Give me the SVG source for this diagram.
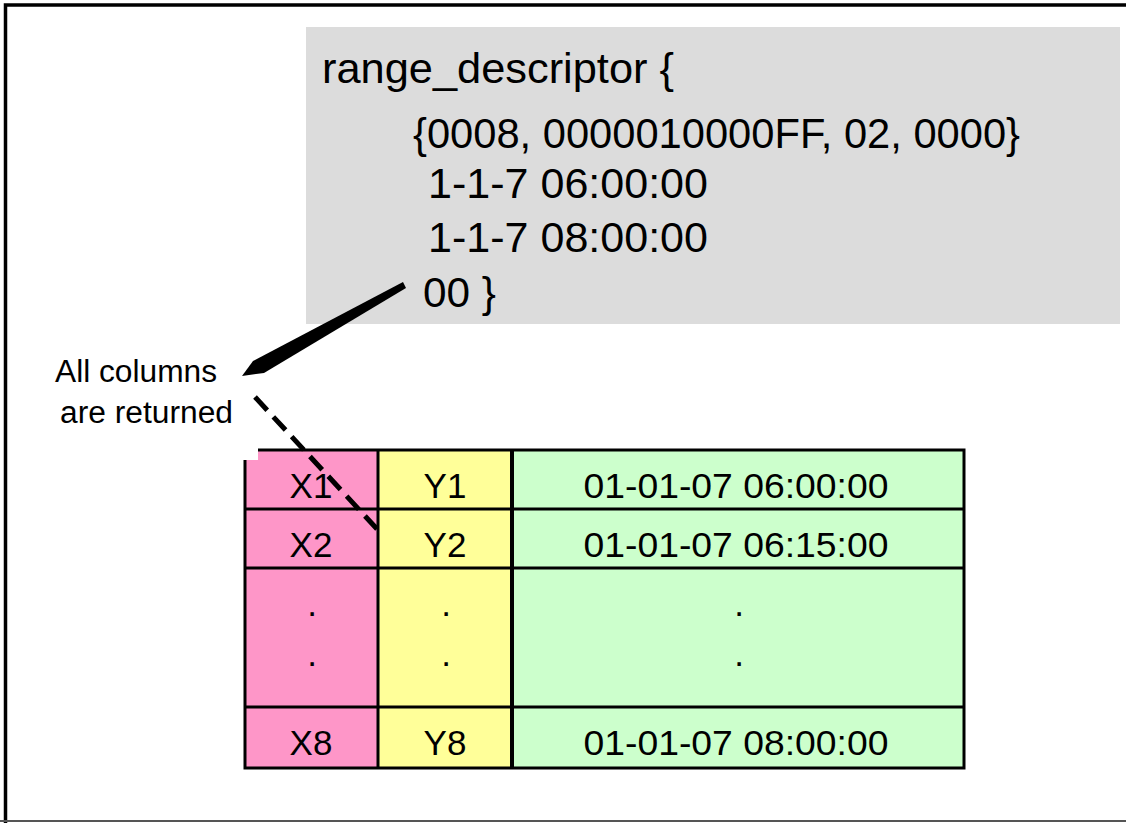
<svg xmlns="http://www.w3.org/2000/svg" width="1126" height="823" viewBox="0 0 1126 823">
  <style>
    text { font-family: "Liberation Sans", Arial, sans-serif; fill: #000; }
    .code { font-size: 43px; }
    .cell { font-size: 35px; text-anchor: middle; }
    .label { font-size: 31px; }
    .grid { fill: none; stroke: #000; stroke-width: 3; }
    .grid-thick { fill: none; stroke: #000; stroke-width: 4; }
  </style>

  <!-- page background and frame -->
  <rect x="0" y="0" width="1126" height="823" fill="#fff"/>
  <path d="M5.5 823 V5 H1126" fill="none" stroke="#000" stroke-width="3.5"/>
  <line x1="0" y1="821" x2="1126" y2="821" stroke="#555" stroke-width="2"/>

  <!-- range descriptor panel -->
  <g id="range-descriptor">
    <rect x="306" y="27" width="814" height="297" fill="#dcdcdc"/>
    <text class="code" x="322" y="83" textLength="352" lengthAdjust="spacingAndGlyphs">range_descriptor {</text>
    <text class="code" x="413" y="148" textLength="607" lengthAdjust="spacingAndGlyphs">{0008, 0000010000FF, 02, 0000}</text>
    <text class="code" x="428" y="198" textLength="280" lengthAdjust="spacingAndGlyphs">1-1-7 06:00:00</text>
    <text class="code" x="428" y="252" textLength="280" lengthAdjust="spacingAndGlyphs">1-1-7 08:00:00</text>
    <text class="code" x="423" y="307" textLength="73" lengthAdjust="spacingAndGlyphs">00 }</text>
  </g>

  <!-- result table -->
  <g id="result-table">
    <rect x="245" y="450" width="133" height="318" fill="#fe96c8"/>
    <rect x="378" y="450" width="134" height="318" fill="#ffff99"/>
    <rect x="512" y="450" width="452" height="318" fill="#ccffcc"/>

    <line class="grid" x1="245" y1="509" x2="964" y2="509"/>
    <line class="grid" x1="245" y1="568" x2="964" y2="568"/>
    <line class="grid" x1="245" y1="707" x2="964" y2="707"/>
    <line class="grid" x1="378" y1="450" x2="378" y2="768"/>
    <line class="grid-thick" x1="512" y1="450" x2="512" y2="768"/>
    <rect class="grid" x="245" y="450" width="719" height="318"/>

    <text class="cell" x="311" y="498">X1</text>
    <text class="cell" x="445" y="498">Y1</text>
    <text class="cell" x="736" y="498" textLength="305" lengthAdjust="spacingAndGlyphs">01-01-07 06:00:00</text>

    <text class="cell" x="311" y="557">X2</text>
    <text class="cell" x="445" y="557">Y2</text>
    <text class="cell" x="736" y="557" textLength="305" lengthAdjust="spacingAndGlyphs">01-01-07 06:15:00</text>

    <text class="cell" x="312" y="616">.</text>
    <text class="cell" x="446" y="616">.</text>
    <text class="cell" x="739" y="616">.</text>
    <text class="cell" x="312" y="666">.</text>
    <text class="cell" x="446" y="666">.</text>
    <text class="cell" x="739" y="666">.</text>

    <text class="cell" x="311" y="755">X8</text>
    <text class="cell" x="445" y="755">Y8</text>
    <text class="cell" x="736" y="755" textLength="305" lengthAdjust="spacingAndGlyphs">01-01-07 08:00:00</text>
  </g>

  <!-- annotation label with its white backing -->
  <g id="columns-label">
    <rect x="40" y="345" width="218" height="115" fill="#fff"/>
    <text class="label" x="55" y="382" textLength="162" lengthAdjust="spacingAndGlyphs">All columns</text>
    <text class="label" x="60" y="423" textLength="173" lengthAdjust="spacingAndGlyphs">are returned</text>
  </g>

  <!-- connectors -->
  <g id="connectors">
    <polygon points="242,376 253,361 403,282 406,288 264,373" fill="#000"/>
    <line x1="255" y1="397" x2="377" y2="529" stroke="#000" stroke-width="5" stroke-dasharray="18 9"/>
  </g>
</svg>
